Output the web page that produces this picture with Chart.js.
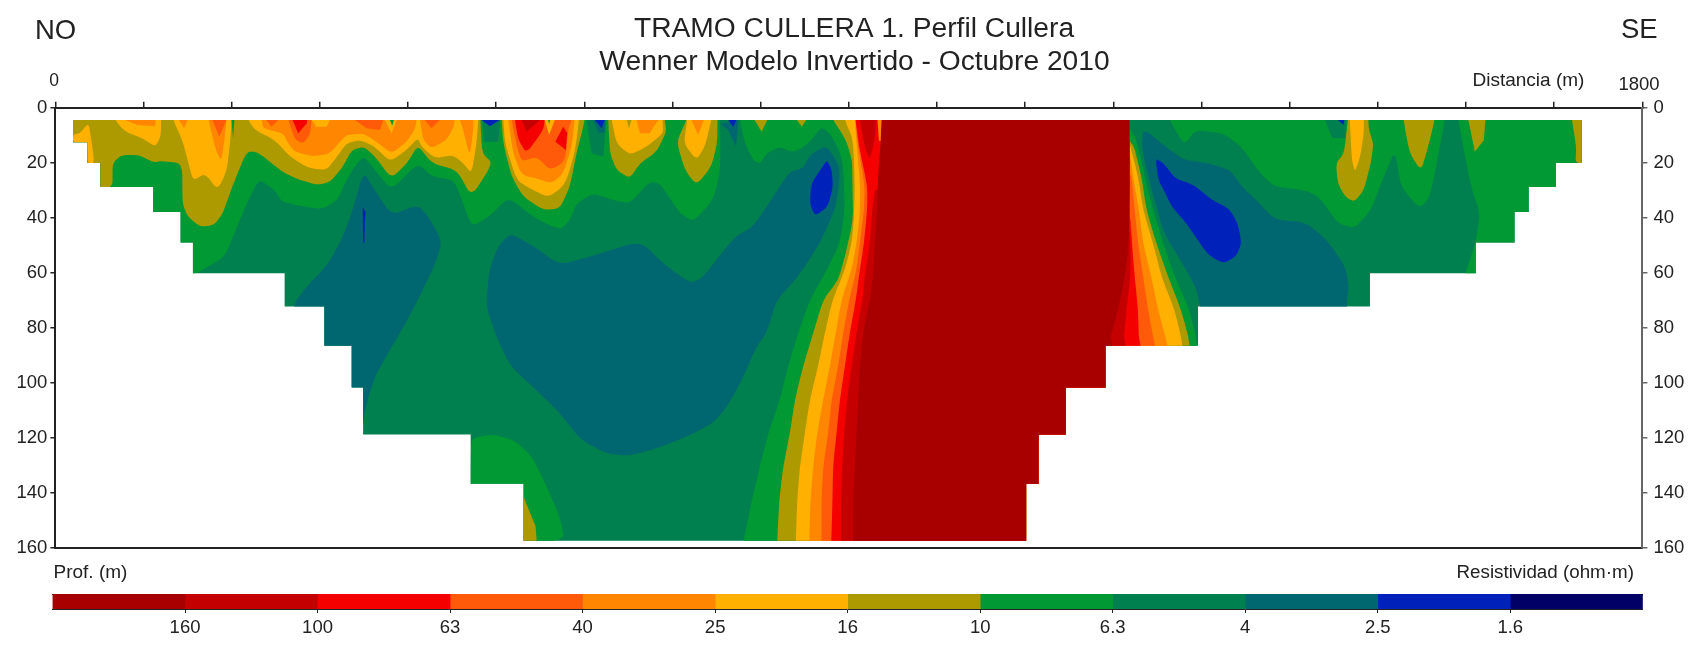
<!DOCTYPE html>
<html>
<head>
<meta charset="utf-8">
<script src="https://cdn.jsdelivr.net/npm/chart.js@4/dist/chart.umd.js"></script>
<style>
html,body{margin:0;padding:0;background:#fff}
#wrap{position:relative;width:1700px;height:652px;overflow:hidden}
canvas{position:absolute;left:0;display:block}
#main{top:0}
#bar{top:584px}
</style>
</head>
<body>
<div id="wrap">
<canvas id="main" width="1700" height="652"></canvas>
<canvas id="bar" width="1700" height="67"></canvas>
</div>
<script>
// ---- scale labels ----
const DEPTH_TICKS = [0,20,40,60,80,100,120,140,160];
const RESISTIVITY_LABELS = ['160','100','63','40','25','16','10','6.3','4','2.5','1.6'];
const TITLE_LINES = ['TRAMO CULLERA 1. Perfil Cullera','Wenner Modelo Invertido - Octubre 2010'];

// ---- class colours, high to low resistivity ----
const C_DARK='#a80000',C_C00='#c40000',C_RED='#f40000',C_RO='#ff5a0a',C_OR='#ff8600',C_YEL='#ffb000',
      C_OLV='#ad9a00',C_G1='#009933',C_G2='#00804f',C_TEAL='#006670',C_BLUE='#0022bb',C_NAVY='#000066';
const CLASS_COLORS=[C_DARK,C_C00,C_RED,C_RO,C_OR,C_YEL,C_OLV,C_G1,C_G2,C_TEAL,C_BLUE,C_NAVY];

// ---- section outline: [distance m, depth m] ----
const DOMAIN=[[20,4.5],[20,12.6],[36.5,12.6],[36.5,20.1],[51,20.1],[51,28.8],[111,28.8],[111,37.9],[142,37.9],[142,49],[156,49],[156,60.2],[260,60.2],[260,72.3],[305,72.3],[305,86.6],[336,86.6],[336,101.7],[349,101.7],[349,118.8],[471,118.8],[471,136.7],[531,136.7],[531,157.5],[1101,157.5],[1101,136.7],[1115,136.7],[1115,118.8],[1146,118.8],[1146,101.7],[1191,101.7],[1191,86.6],[1296,86.6],[1296,72.3],[1491,72.3],[1491,60.2],[1611,60.2],[1611,49],[1655,49],[1655,37.9],[1671,37.9],[1671,28.8],[1702,28.8],[1702,20.1],[1731,20.1],[1731,4.5]];

// ---- 2.5-4 ohm-m bodies ----
const TEAL_A=[[349.5,23.3],[362,30],[381,39],[411,35.4],[423,39.6],[438.6,48.7],[431,56.6],[411,70],[395,79.6],[375,90.5],[362.5,97.8],[354,106.3],[350,112.3],[349,116],[340,120],[250,120],[268,75],[273,70],[285.5,65],[310,56.6],[326,46.9],[336,38.4]];
const TEAL_B=[[489,70],[492,59],[502,50.5],[516,45.7],[540.7,50],[572,57.2],[612.5,53.6],[663,48.4],[693.5,57.8],[726,65],[770.5,46.9],[791.5,43.3],[821.7,28.7],[833,23.3],[848,22],[855.7,17.2],[874.6,13.6],[889.7,21.4],[888,30],[884,37.2],[867,49.3],[842.4,61.5],[818,69.9],[806.6,82],[795,87],[778.5,99],[762,108.7],[746,114.7],[714,120],[677,124.4],[649,126.6],[624.6,125.7],[596,120.8],[572,111],[545,102.6],[516,94],[500,83.2],[490,73.5]];
const TEAL_C=[[1234,7.5],[1261.5,14.8],[1280.4,19],[1307.7,20.2],[1333,22.7],[1345.4,28.7],[1362,33.6],[1383,40.8],[1417,41.5],[1442,48],[1463,57.8],[1467,65],[1465,70],[1465,75],[1300,75],[1297,70],[1293,65],[1276,55.4],[1257,45.7],[1240.6,26.3],[1232,14.2]];
// ---- 1.6-2.5 ohm-m bodies ----
const BLUE_A=[[348.5,36],[352,38],[351,41],[350.5,49],[349,49]];
const BLUE_B=[[875,19],[880.6,22.7],[882,28.9],[876,36],[861.6,39.4],[855.5,34.8],[857.5,27.5],[867.6,22.7]];
const BLUE_C=[[1247.7,18.4],[1257,20.2],[1270,25.7],[1291,28.1],[1312,33.6],[1331,36.6],[1341,42],[1345.4,49.3],[1339,54.2],[1324.5,56.6],[1307.7,53.6],[1293,46.9],[1282.5,42],[1266,35.9],[1257,29.9],[1251,26.3]];

// ---- boundaries of the central resistive body, left side, top to bottom ----
const L_GREEN=[[869,6.9],[880,10],[889.7,16],[893.5,21.4],[895.4,37.2],[889.7,49.3],[875,59],[855.7,69.9],[842.5,82],[831,94.1],[821.7,106.3],[808.5,118.4],[799,130.5],[790,142.6],[780.6,157.5]];
const L_OLIVE=[[882,4.5],[889.7,8.1],[897.3,12.4],[903.7,19],[904,28.7],[904.8,40.9],[895.4,54.2],[887.8,62.7],[870.8,69.9],[859.5,82],[848,94.1],[838.7,106.3],[833,118.4],[825.5,130.5],[821,142.6],[818.7,157.5]];
const L_YELLOW=[[895.4,4.5],[904.8,11.7],[906.7,28.7],[905.6,40.9],[903,49.3],[895.4,59],[881.4,69.9],[872.7,82],[865,94.1],[855.7,106.3],[850,118.4],[844.4,130.5],[841.3,142.6],[839.8,157.5]];
const L_ORANGE=[[906.7,4.5],[908.6,13],[913,28.7],[912.4,38.4],[908.6,49.3],[903,59],[891.6,69.9],[885,82],[878.4,94.1],[870.8,106.3],[864,118.4],[859.5,130.5],[856.5,142.6],[855,157.5]];
const L_REDORANGE=[[907.5,4.5],[910.5,14.2],[918,28.7],[917,37.2],[912.4,49.3],[908.6,59],[900.3,69.9],[893.5,82],[887.8,94.1],[880.3,106.3],[876.5,118.4],[870.8,130.5],[869,142.6],[869,157.5]];
const L_RED=[[907.5,4.5],[911.6,14.2],[921,28.7],[920.7,37.2],[917,49.3],[912.4,59],[907.9,69.9],[901,82],[895.4,94.1],[889.7,106.3],[886,118.4],[882,130.5],[881.4,142.6],[880,157.5]];
const L_C00=[[930.5,27.5],[926.4,37.2],[923.7,49.3],[918,61.5],[915.4,69.9],[908.6,82],[903,94.1],[898,106.3],[894.5,118.4],[892.5,130.5],[891,142.6],[891,157.5]];
const L_DARK=[[937,4.5],[936,13],[933,25],[932,37.2],[929.4,49.3],[927.5,61.5],[923.7,69.9],[916,82],[912.4,94.1],[910.5,106.3],[908.6,118.4],[906.7,130.5],[904.8,142.6],[904.8,157.5]];
// ---- same boundaries, right side, top to bottom ----
const R_GREEN=[[1218,7],[1219.3,8.1],[1224.2,10.5],[1228,14.2],[1235.6,25],[1245,37.2],[1256.4,49.3],[1269.6,61.5],[1286.6,73.6],[1296,86.7]];
const R_OLIVE=[[1218,12],[1223.5,14.2],[1231.8,25],[1237.5,37.2],[1248.8,49.3],[1262,61.5],[1277,73.6],[1287.7,86.7]];
const R_YELLOW=[[1218,13.5],[1219.3,14.2],[1228,25],[1233.7,37.2],[1245,49.3],[1254.5,61.5],[1269.6,73.6],[1279,86.7]];
const R_ORANGE=[[1218,16.8],[1219.3,17.8],[1222.3,25],[1229,37.2],[1233.7,49.3],[1243,61.5],[1250.7,73.6],[1262,86.7]];
const R_REDORANGE=[[1218,24],[1220.5,25],[1224.2,37.2],[1228,49.3],[1233.7,61.5],[1239.4,73.6],[1247,86.7]];
const R_RED=[[1218,39],[1219.3,40.8],[1222.3,54.2],[1224.2,61.5],[1228,73.6],[1229,86.7]];
const R_C00=[[1218,41],[1219.3,51.8],[1219.3,61.5],[1214.8,73.6],[1211,86.7]];
const R_DARK=[[1218.6,4.5],[1218.6,37.2],[1216.7,51.8],[1213,61.5],[1205.3,73.6],[1194,86.7]];

// ---- 6.3-10 ohm-m: lower edge of the shallow band, west to east ----
const G1_EDGE=[[0,0],[0,61],[156,61],[170,58.4],[192,54.2],[204.5,44.5],[218.7,33.6],[231,26],[249,30],[257,34.2],[273.4,35.4],[301.7,37],[320,33.6],[330,26.3],[342,20.2],[350,17.8],[362.5,22.7],[381,30],[411,20.2],[427,25],[451.6,26.3],[460,32.4],[472,43.3],[492,39.6],[514,32.4],[541,39.6],[572,44.5],[583.6,40.9],[591,34.8],[610,31.1],[632.7,33.6],[651.6,34.8],[674,26.9],[685.6,27.5],[708.3,38.4],[723.4,41.4],[746,33.6],[753.7,23.9],[754.4,13],[753,0],[776,0],[776.3,4.5],[782,13],[791.5,19],[799,20.5],[806.6,16.6],[821.7,14.2],[833,16],[844,15.4],[857.6,11.7]];
const G1_EAST_A=[[1263.6,4.5],[1280.4,13.6],[1293,8.1],[1324.5,9.3],[1345.4,14.2],[1366.4,23.9],[1383,28.7],[1417,30],[1433.5,32.4],[1454.5,42],[1473.4,43.9],[1492.3,37.2],[1505,26.3],[1519.5,15.4],[1526,28.7],[1547,36.6],[1559.4,32.4],[1576,4.5]];
const G1_EAST_B=[[1591,4.5],[1605.5,28.7],[1616,38.4],[1610.6,49.3],[1599,60.2],[1599,62],[1800,62],[1800,4.5]];
const G1_DEEP=[[471,121],[478,119.8],[496,118.8],[520,120.8],[540.7,126.9],[557,137.8],[572,148.7],[578,158],[470,158]];

// ---- 4-6.3 and lower patches at the surface ----
const G2_SPOT_A=[[123.5,4.5],[126.4,12.7],[129.6,4.5]];
const G2_SPOT_B=[[484,4.5],[486,12.4],[502.5,12.4],[504.5,4.5]];
const G2_SPOT_C=[[602.5,4.5],[608,16.6],[621.4,17.8],[624.4,4.5]];
const G2_SPOT_D=[[1440,4.5],[1448,11],[1463,11],[1464,4.5]];
const TEAL_SPOT_A=[[610,4.5],[616,9],[623,9],[624,4.5]];
const TEAL_SPOT_B=[[754.4,6],[763,8],[772,14.2],[774.5,4.5]];
const BLUE_SPOT_A=[[483.4,4.5],[492.8,6.7],[504,4.5]];
const BLUE_SPOT_B=[[612,4.5],[619.5,7.5],[623,4.5]];
const BLUE_SPOT_C=[[763,4.5],[768.8,6.9],[772.5,4.5]];
const BLUE_SPOT_D=[[1454.5,4.5],[1461,6.3],[1462,4.5]];

// ---- 10-16 ohm-m ----
const OLV_WEST=[[0,0],[0,30],[64.8,30],[64.8,20.2],[75,17.2],[95,17.2],[111,19.9],[119.5,19.4],[144,20.2],[144,34.8],[150,39.6],[164,43.3],[180,42.7],[190,38.4],[200.5,28.7],[216.7,16],[229,16],[257,23.3],[277.4,26.3],[297.7,28.1],[312,26.9],[326,21.5],[336,15.4],[350,14.2],[362.5,17.8],[381,25.7],[399,20.2],[411,13.6],[427,20.2],[455.6,22.7],[472,32.4],[496,20.2],[484,16.6],[482,4.5],[482,0]];
const OLV_B=[[506,4.5],[508,13],[517.4,25],[530.6,32.4],[553.3,37.2],[572.2,36.6],[583.6,28.7],[591,16.6],[600.6,4.5]];
const OLV_C=[[627,4.5],[629,16.6],[636.5,22.7],[651.6,25.7],[663,20.2],[682,16],[693,8.7],[691,4.5]];
const OLV_D=[[716,4.5],[704.5,12.4],[714,22.7],[727,28.1],[744,21.5],[750.6,13],[751,4.5]];
const OLV_E=[[793,4.5],[801,8.7],[807.3,4.5]];
const OLV_F=[[841,4.5],[846.6,6.9],[851.5,4.5]];
const OLV_G=[[1466,4.5],[1461.6,16.6],[1452.4,20.2],[1454.5,27.5],[1463,32.4],[1473.4,34.2],[1484,30],[1492,20.2],[1495,13],[1490,8.3],[1489,4.5]];
const OLV_H=[[1529,4.5],[1536,16.6],[1549,22.9],[1557,14.2],[1564.4,4.5]];
const OLV_I=[[1602.6,4.5],[1610,16],[1620,11.8],[1622,4.5]];
const OLV_J=[[1720,4.5],[1725,14.2],[1724,20.1],[1735,20.1],[1735,4.5]];
const OLV_DEEP=[[531,141.4],[536.6,145.9],[544.7,152.3],[546,158],[525,158]];
const OLV_SPOT=[[648,4.5],[650.5,7.5],[653.5,4.5]];

// ---- 16-25 ohm-m ----
const YEL_A=[[20,9.7],[28,9.3],[36.5,6],[38.5,7],[44.5,20.2],[36.5,20.2],[36.5,12.6],[20,12.6]];
const YEL_B=[[67.6,4.5],[79,8.7],[99,11.2],[113.4,14.2],[119.5,10.5],[120,4.5]];
const YEL_C=[[133.6,4.5],[144,11.8],[150,19],[156,26.5],[170,23.9],[184,29.9],[194.4,23],[198,13],[200,4.5]];
const YEL_D=[[218.7,4.5],[226.3,8.1],[249,11.7],[266,17.8],[287,22],[307.6,22.7],[320.8,17.2],[330,13],[345.4,11.7],[362.4,14.2],[379.4,19.6],[398.3,15.4],[410.8,11.1],[415.3,14.2],[430.4,18.4],[451,17.2],[462.5,20.2],[472,23.9],[477.7,13],[479.6,4.5]];
const YEL_E=[[508,4.5],[510,13],[523,26.3],[538,29.3],[559,32.6],[578,28.1],[589,16.6],[594,4.5]];
const YEL_F=[[630.8,4.5],[636.5,13],[651.6,17.2],[670.5,14.2],[689.4,9.3],[688.6,4.5]];
const YEL_G=[[716.6,4.5],[712.8,13],[727,19],[736.6,14.2],[744,4.5]];
const YEL_H=[[1468,4.5],[1470.5,19],[1474,23.3],[1480,17.8],[1484,9.3],[1484,4.5]];
const YEL_CAP_A=[[290.6,4.5],[296,6.9],[307.6,6.9],[311.3,4.5]];
const YEL_CAP_B=[[373.7,4.5],[381.3,9.3],[387,4.5]];
const YEL_CAP_C=[[555,4.5],[560,9.9],[566.5,4.5]];

// ---- 25-40 ohm-m ----
const OR_A=[[79,4.5],[93,6.3],[113.4,6.7],[113.4,4.5]];
const OR_B=[[140,4.5],[146,7.5],[150,4.5]];
const OR_C=[[173.5,4.5],[182,15.4],[188.3,19.5],[192,11],[194,4.5]];
const OR_D=[[233.9,4.5],[235.7,7.5],[258.4,9.3],[264,13],[271.6,16],[292.4,17.8],[311.3,16.6],[324.6,11.7],[330,10],[349,9.3],[364,12.4],[381.3,16.6],[396.4,13],[407.7,8.1],[409.6,4.5]];
const OR_E=[[413.4,4.5],[417.2,11.7],[426.6,14.8],[443.6,11.7],[451,7.5],[453,4.5]];
const OR_F=[[458.8,4.5],[462.5,8.1],[470,17.8],[473.9,8.1],[473.9,4.5]];
const OR_G=[[513.6,4.5],[519.3,16.6],[528.8,24.5],[545.8,25.7],[562.8,27.5],[576,23.9],[585.5,14.2],[589,4.5]];
const OR_H=[[659,4.5],[663,9.3],[674,9.3],[683.7,4.5]];
const OR_I=[[721.5,4.5],[729,9.9],[735.5,4.5]];
const OR_SLIVER=[[932.5,4.5],[937,4.5],[936,12],[934,12]];

// ---- 40-63 ohm-m ----
const RO_A=[[178,4.5],[186,10.5],[194,4.5]];
const RO_B=[[239.5,4.5],[245,6.9],[252.7,4.5]];
const RO_C=[[264,4.5],[272,11.7],[281,13],[288.6,9.9],[290.6,4.5]];
const RO_D=[[339.7,4.5],[353,7.5],[368,8.1],[371.8,4.5]];
const RO_E=[[419,4.5],[426.6,7.5],[436,4.5]];
const RO_F=[[517.4,4.5],[523,13.6],[528.8,19.6],[545.8,17.8],[561,22.7],[578,19.6],[581.7,8.1],[585.5,4.5]];

// ---- 63-100 ohm-m and above, at the surface ----
const RED_A=[[269,4.5],[275.4,9.3],[285,5.7],[285.6,4.5]];
const RED_B=[[521.2,4.5],[525,11.7],[534.4,16.6],[553.3,8.1],[555,4.5]];
const RED_C=[[567,12.4],[576,6.9],[580.5,9.3],[579,15.4]];
const C00_A=[[528.8,4.5],[534.4,8.7],[549.5,4.5]];
const C00_B=[[912.4,4.5],[918,14.2],[923.7,19],[929.4,11.7],[931,4.5]];
const G1_SPOT_A=[[379.4,4.5],[382,6.5],[384,4.5]];
const G1_SPOT_B=[[558.9,4.5],[560,6],[561,4.5]];
const G1_SPOT_C=[[199.7,4.5],[201.5,11],[203,4.5]];

// ---- polygons assembled from the boundaries above ----
const BOTTOM=160, TOPEDGE=0, FAR_EAST=1300;
function band(L,R){const l=L[L.length-1];return [...L,[l[0],BOTTOM],[FAR_EAST,BOTTOM],...[...R].reverse(),[R[0][0],TOPEDGE],[L[0][0],TOPEDGE]];}
const G1_MAIN=[...G1_EDGE,...L_GREEN,[780,BOTTOM],[FAR_EAST,BOTTOM],...[...R_GREEN].reverse(),[1218,TOPEDGE]];
const C00_BAND=[...L_C00,[891,BOTTOM],[FAR_EAST,BOTTOM],...[...R_C00].reverse()];

const LAYERS=[
 [C_G2,[DOMAIN]],
 [C_TEAL,[TEAL_A,TEAL_B,TEAL_C]],
 [C_BLUE,[BLUE_A,BLUE_B,BLUE_C]],
 [C_G1,[G1_MAIN,G1_EAST_A,G1_EAST_B,G1_DEEP]],
 [C_G2,[G2_SPOT_A,G2_SPOT_B,G2_SPOT_C,G2_SPOT_D]],
 [C_TEAL,[TEAL_SPOT_A,TEAL_SPOT_B]],
 [C_BLUE,[BLUE_SPOT_A,BLUE_SPOT_B,BLUE_SPOT_C,BLUE_SPOT_D]],
 [C_OLV,[OLV_WEST,OLV_B,OLV_C,OLV_D,OLV_E,OLV_F,OLV_G,OLV_H,OLV_I,OLV_J,OLV_DEEP,band(L_OLIVE,R_OLIVE)]],
 [C_YEL,[YEL_A,YEL_B,YEL_C,YEL_D,YEL_E,YEL_F,YEL_G,YEL_H,band(L_YELLOW,R_YELLOW)]],
 [C_OR,[OR_A,OR_B,OR_C,OR_D,OR_E,OR_F,OR_G,OR_H,OR_I,band(L_ORANGE,R_ORANGE)]],
 [C_YEL,[YEL_CAP_A,YEL_CAP_B]],
 [C_RO,[RO_A,RO_B,RO_C,RO_D,RO_E,RO_F,band(L_REDORANGE,R_REDORANGE)]],
 [C_RED,[RED_A,RED_B,RED_C,band(L_RED,R_RED)]],
 [C_C00,[C00_A,C00_B,C00_BAND]],
 [C_DARK,[band(L_DARK,R_DARK)]],
 [C_OR,[OR_SLIVER]],
 [C_YEL,[YEL_CAP_C]],
 [C_OLV,[OLV_SPOT]],
 [C_G1,[G1_SPOT_A,G1_SPOT_B,G1_SPOT_C]]
];

// surface-touching shapes run on to depth 0 so that the clip gives a clean top edge
function cap(p){const a=p[0],b=p[p.length-1];return (a[1]===4.5&&b[1]===4.5&&p!==DOMAIN)?[[a[0],0],...p,[b[0],0]]:p;}

const datasets=[];
LAYERS.forEach(([color,polys])=>polys.forEach(p=>datasets.push({
  data:cap(p).map(([x,y])=>({x,y})),
  backgroundColor:color,borderWidth:0,pointRadius:0,showLine:false
})));

const FONT='"Liberation Sans", Arial, sans-serif';
const INK='#222222';
const CORNER=0.32; // share of each edge that is rounded off, contour lines only

const contourFill={
  id:'contourFill',
  beforeDatasetsDraw(chart){
    const ctx=chart.ctx;
    const sharp=(pts)=>{ctx.beginPath();pts.forEach((e,i)=>i?ctx.lineTo(e.x,e.y):ctx.moveTo(e.x,e.y));ctx.closePath();};
    const round=(pts)=>{
      const n=pts.length;
      ctx.beginPath();
      for(let i=0;i<n;i++){
        const p=pts[i],a=pts[(i+n-1)%n],b=pts[(i+1)%n];
        const sx=p.x+(a.x-p.x)*CORNER,sy=p.y+(a.y-p.y)*CORNER,ex=p.x+(b.x-p.x)*CORNER,ey=p.y+(b.y-p.y)*CORNER;
        if(i===0)ctx.moveTo(sx,sy);else ctx.lineTo(sx,sy);
        ctx.quadraticCurveTo(p.x,p.y,ex,ey);
      }
      ctx.closePath();
    };
    ctx.save();
    sharp(chart.getDatasetMeta(0).data);
    ctx.fillStyle=chart.data.datasets[0].backgroundColor;
    ctx.fill();
    ctx.clip();
    chart.data.datasets.forEach((d,i)=>{
      if(i===0)return;
      const pts=chart.getDatasetMeta(i).data;
      if(pts.length>6)round(pts);else sharp(pts);
      ctx.fillStyle=d.backgroundColor;
      ctx.fill();
    });
    ctx.restore();
  }
};

const TEXTS=[
 [TITLE_LINES[0],854,36.5,'center',28.2],
 [TITLE_LINES[1],854.5,70,'center',28.2],
 ['NO',35,39,'left',27.5],
 ['SE',1621,38,'left',27.5],
 ['0',54,86,'center',17.5],
 ['1800',1639,90,'center',18.5],
 ['Distancia (m)',1472.5,86,'left',19],
 ['Prof. (m)',53.5,577.5,'left',19],
 ['Resistividad (ohm·m)',1456.5,577.5,'left',18.8]
];
const annotations={
  id:'annotations',
  afterDraw(chart){
    const ctx=chart.ctx;
    ctx.save();
    ctx.fillStyle=INK;
    ctx.textBaseline='alphabetic';
    TEXTS.forEach(([t,x,y,a,s])=>{ctx.font=s+'px '+FONT;ctx.textAlign=a;ctx.fillText(t,x,y);});
    ctx.restore();
  }
};

const fixed=(prop,v)=>function(s){s[prop]=v;};

new Chart(document.getElementById('main'),{
  type:'scatter',
  data:{datasets},
  plugins:[contourFill,annotations],
  options:{
    responsive:false,animation:false,events:[],
    layout:{padding:{top:0,left:0,right:0,bottom:104.3}},
    plugins:{legend:{display:false},tooltip:{enabled:false},title:{display:false}},
    scales:{
      x:{type:'linear',position:'top',min:0,max:1800,afterFit:fixed('height',107.7),
         ticks:{display:false,stepSize:100,autoSkip:false},
         grid:{drawOnChartArea:false,drawTicks:true,tickLength:6,color:INK,lineWidth:1.5},
         border:{display:true,color:INK,width:2}},
      xb:{type:'linear',position:'bottom',min:0,max:1800,afterFit:fixed('height',0),
         ticks:{display:false},
         grid:{drawOnChartArea:false,drawTicks:false},
         border:{display:true,color:INK,width:2}},
      y:{type:'linear',position:'left',min:0,max:160,reverse:true,afterFit:fixed('width',55.4),
         afterBuildTicks(s){s.ticks=DEPTH_TICKS.map(value=>({value}));},
         ticks:{color:INK,font:{family:FONT,size:18.5},padding:3,autoSkip:false},
         grid:{drawOnChartArea:false,drawTicks:true,tickLength:5,color:INK,lineWidth:1.5},
         border:{display:true,color:INK,width:2}},
      yr:{type:'linear',position:'right',min:0,max:160,reverse:true,afterFit:fixed('width',57.6),
         afterBuildTicks(s){s.ticks=DEPTH_TICKS.map(value=>({value}));},
         ticks:{color:INK,font:{family:FONT,size:18.5},padding:6,autoSkip:false},
         grid:{drawOnChartArea:false,drawTicks:true,tickLength:5,color:'#666666',lineWidth:1.5},
         border:{display:true,color:'#666666',width:2}}
    }
  }
});

// ---- colour bar ----
new Chart(document.getElementById('bar'),{
  type:'bar',
  data:{labels:[''],datasets:CLASS_COLORS.map(c=>({data:[1],backgroundColor:c,borderWidth:0,barPercentage:1,categoryPercentage:1}))},
  options:{
    indexAxis:'y',responsive:false,animation:false,events:[],
    layout:{padding:{top:10,left:52.5,right:57.2,bottom:0}},
    plugins:{legend:{display:false},tooltip:{enabled:false}},
    scales:{
      x:{type:'linear',position:'bottom',stacked:true,min:0,max:CLASS_COLORS.length,afterFit:fixed('height',42),
         afterBuildTicks(s){s.ticks=RESISTIVITY_LABELS.map((_,i)=>({value:i+1}));},
         ticks:{color:INK,font:{family:FONT,size:18.5},padding:4,autoSkip:false,maxRotation:0,callback:(v)=>RESISTIVITY_LABELS[v-1]},
         grid:{drawOnChartArea:false,drawTicks:true,tickLength:4,color:INK,lineWidth:1},
         border:{display:true,color:INK,width:1}},
      xt:{type:'linear',position:'top',min:0,max:CLASS_COLORS.length,afterFit:fixed('height',0),
         ticks:{display:false},grid:{drawOnChartArea:false,drawTicks:false},
         border:{display:true,color:INK,width:1}},
      y:{stacked:true,display:false}
    }
  }
});
</script>
</body>
</html>
